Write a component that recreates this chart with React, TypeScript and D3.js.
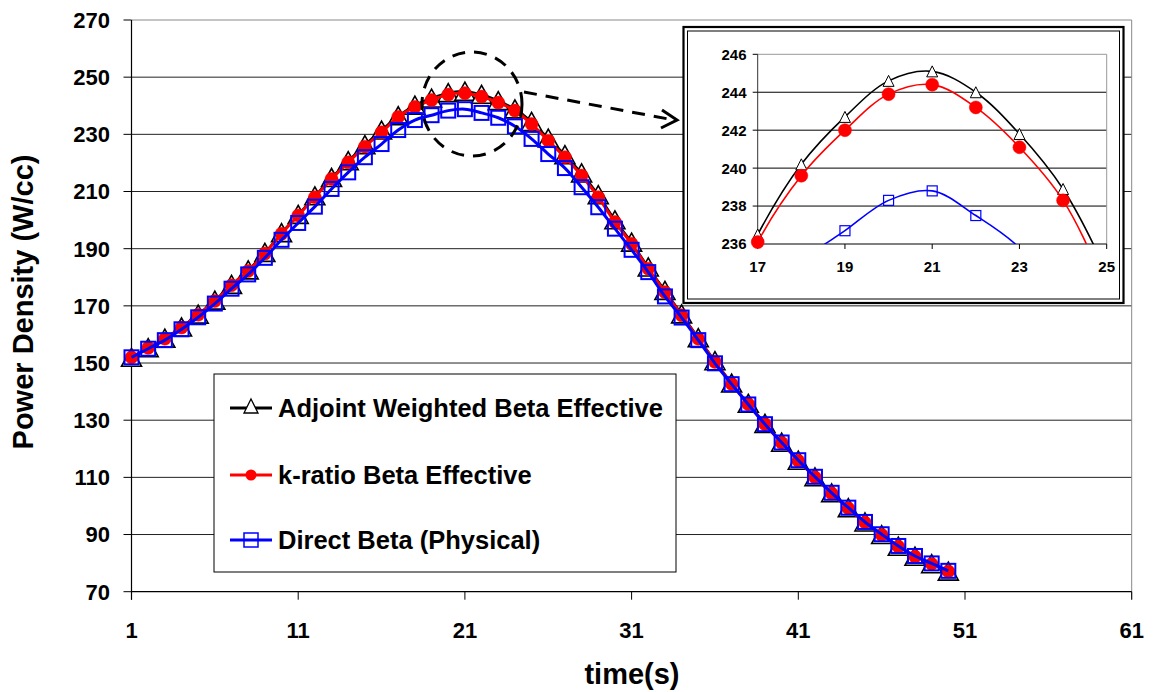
import React from "react";
import * as d3 from "d3";

const times = [1,2,3,4,5,6,7,8,9,10,11,12,13,14,15,16,17,18,19,20,21,22,23,24,25,26,27,28,29,30,31,32,33,34,35,36,37,38,39,40,41,42,43,44,45,46,47,48,49,50];
const adjoint = [152.0,155.4,158.7,162.6,167.1,172.0,177.5,182.6,188.7,195.6,202.0,208.5,214.9,220.8,226.4,231.5,236.5,240.2,242.7,244.6,245.1,244.0,241.8,238.9,234.5,228.7,222.9,216.5,208.9,200.1,192.3,183.6,175.4,167.2,158.9,150.8,143.0,135.9,128.9,122.3,116.0,110.2,104.6,99.4,94.4,90.0,85.9,82.4,79.8,77.2];
const kratio = [152.0,155.3,158.5,162.4,166.9,171.7,177.2,182.2,188.3,195.2,201.6,208.0,214.4,220.2,225.7,230.7,236.1,239.6,242.0,243.9,244.4,243.2,241.1,238.3,233.6,227.8,222.0,215.6,208.0,199.3,191.7,183.0,174.8,166.7,158.5,150.4,142.7,135.6,128.6,122.1,115.8,110.0,104.4,99.2,94.2,89.9,85.8,82.3,79.7,77.1];
const direct = [152.0,155.0,158.0,161.8,166.0,170.8,176.0,181.0,186.8,193.1,199.0,204.7,210.9,216.7,222.0,226.6,231.5,235.0,236.7,238.3,238.8,237.5,235.8,232.8,228.4,223.1,218.2,211.5,204.5,197.0,189.6,181.8,173.3,165.9,158.0,149.9,142.6,135.5,128.6,122.2,116.0,110.2,104.6,99.4,94.4,90.1,86.0,82.5,79.9,77.3];

const xTicks = [1,11,21,31,41,51,61];
const yTicks = [70,90,110,130,150,170,190,210,230,250,270];
const insetXTicks = [17,19,21,23,25];
const insetYTicks = [236,238,240,242,244,246];

const seriesNames = ["Adjoint Weighted Beta Effective","k-ratio Beta Effective","Direct Beta (Physical)"];

const FONT = "'Liberation Sans', Arial, Helvetica, sans-serif";

type Pt = { t: number; v: number };
const mk = (vals: number[]): Pt[] => times.map((t, i) => ({ t, v: vals[i] }));

function tri(cx: number, cy: number, w: number, h: number) {
  return `M${cx},${cy - h / 2}L${cx + w / 2},${cy + h / 2}L${cx - w / 2},${cy + h / 2}Z`;
}

export default function App() {
  const x = d3.scaleLinear().domain([1, 61]).range([131.5, 1131.7]);
  const y = d3.scaleLinear().domain([70, 270]).range([591.7, 20]);
  const ix = d3.scaleLinear().domain([17, 25]).range([757.7, 1106.7]);
  const iy = d3.scaleLinear().domain([236, 246]).range([244, 54.3]);

  const data = [
    { pts: mk(adjoint), color: "#000", lw: 2, kind: "tri" },
    { pts: mk(kratio), color: "#ff0000", lw: 3, kind: "circ" },
    { pts: mk(direct), color: "#0000ff", lw: 3, kind: "sq" },
  ];

  const mainLine = d3.line<Pt>().x(d => x(d.t)).y(d => y(d.v)).curve(d3.curveCatmullRom);
  const insetLine = d3.line<Pt>().x(d => ix(d.t)).y(d => iy(d.v)).curve(d3.curveCatmullRom);

  const marker = (kind: string, cx: number, cy: number, color: string, big: boolean, key: any) => {
    if (kind === "tri") {
      return big
        ? <path key={key} d={tri(cx, cy, 20, 18)} fill="#fff" stroke="#000" strokeWidth={1.6} />
        : <path key={key} d={tri(cx, cy, 11, 11)} fill="#fff" stroke="#000" strokeWidth={1} />;
    }
    if (kind === "circ") {
      return <circle key={key} cx={cx} cy={cy} r={6.5} fill="#ff0000" stroke="#ff0000" strokeWidth={0.5} />;
    }
    const s = big ? 14 : 10;
    return <rect key={key} x={cx - s / 2} y={cy - s / 2} width={s} height={s} fill="none" stroke="#0000ff" strokeWidth={big ? 2 : 1.2} />;
  };

  const insetFrame = { x: 683.5, y: 27, w: 440, h: 276 };

  return (
    <svg width={1155} height={692} style={{ position: "absolute", left: 0, top: 0, background: "#fff" }} fontFamily={FONT}>
      <rect x={0} y={0} width={1155} height={692} fill="#fff" />
      <defs>
        <clipPath id="insetClip">
          <rect x={ix(17)} y={iy(246)} width={ix(25) - ix(17)} height={iy(236) - iy(246)} />
        </clipPath>
      </defs>

      {yTicks.slice(1).map(t => (
        <line key={"g" + t} x1={x(1)} x2={x(61)} y1={y(t)} y2={y(t)} stroke={t === 270 ? "#888" : "#222"} strokeWidth={1} />
      ))}
      <line x1={x(61)} x2={x(61)} y1={y(270)} y2={y(70) + 8} stroke="#888" strokeWidth={1} />
      <line x1={x(1)} x2={x(1)} y1={y(270)} y2={y(70) + 8} stroke="#000" strokeWidth={1.2} />
      <line x1={x(1)} x2={x(61)} y1={y(70)} y2={y(70)} stroke="#000" strokeWidth={1.2} />
      {yTicks.map(t => (
        <g key={"yt" + t}>
          <line x1={x(1) - 8} x2={x(1)} y1={y(t)} y2={y(t)} stroke="#000" strokeWidth={1} />
          <text x={110} y={y(t)} dy="0.36em" textAnchor="end" fontSize={22} fontWeight="bold">{t}</text>
        </g>
      ))}
      {xTicks.map(t => (
        <g key={"xt" + t}>
          <line x1={x(t)} x2={x(t)} y1={y(70)} y2={y(70) + 8} stroke="#000" strokeWidth={1} />
          <text x={x(t)} y={638} textAnchor="middle" fontSize={22} fontWeight="bold">{t}</text>
        </g>
      ))}
      <text x={632} y={684} textAnchor="middle" fontSize={29} fontWeight="bold">time(s)</text>
      <text transform="translate(33,302) rotate(-90)" textAnchor="middle" fontSize={29} fontWeight="bold">Power Density (W/cc)</text>

      {data.map((s, i) => (
        <g key={"s" + i}>
          <path d={mainLine(s.pts) || ""} fill="none" stroke={s.color} strokeWidth={s.lw} />
          {s.pts.map((p, j) => marker(s.kind, x(p.t), y(p.v), s.color, true, j))}
        </g>
      ))}

      <ellipse cx={472} cy={104} rx={50} ry={52} fill="none" stroke="#000" strokeWidth={3} strokeDasharray="13 9" />
      <line x1={524} y1={92} x2={674} y2={120} stroke="#000" strokeWidth={3} strokeDasharray="13 9" />
      <path d="M662,110 L677,120 L661,128" fill="none" stroke="#000" strokeWidth={3} />

      <rect x={214} y={374} width={462} height={198} fill="#fff" stroke="#000" strokeWidth={1} />
      {data.map((s, i) => {
        const ly = [408, 475, 540][i];
        return (
          <g key={"lg" + i}>
            <line x1={230} x2={272} y1={ly} y2={ly} stroke={s.color} strokeWidth={2.8} />
            {s.kind === "tri" && <path d={tri(251, ly - 2, 14, 14)} fill="#fff" stroke="#000" strokeWidth={1.3} />}
            {s.kind === "circ" && <circle cx={251} cy={ly} r={5.5} fill="#ff0000" />}
            {s.kind === "sq" && <rect x={244} y={ly - 7} width={14} height={14} fill="none" stroke="#0000ff" strokeWidth={1.5} />}
            <text x={278} y={ly} dy="0.36em" fontSize={25.5} fontWeight="bold">{seriesNames[i]}</text>
          </g>
        );
      })}

      <rect x={insetFrame.x} y={insetFrame.y} width={insetFrame.w} height={insetFrame.h} fill="#fff" stroke="#000" strokeWidth={2.2} />
      <rect x={insetFrame.x + 4} y={insetFrame.y + 4} width={insetFrame.w - 8} height={insetFrame.h - 8} fill="none" stroke="#000" strokeWidth={1} />
      {insetYTicks.slice(1, -1).map(t => (
        <line key={"ig" + t} x1={ix(17)} x2={ix(25)} y1={iy(t)} y2={iy(t)} stroke="#000" strokeWidth={1} />
      ))}
      <line x1={ix(17)} x2={ix(25)} y1={iy(246)} y2={iy(246)} stroke="#999" strokeWidth={1} />
      <line x1={ix(25)} x2={ix(25)} y1={iy(246)} y2={iy(236)} stroke="#999" strokeWidth={1} />
      <line x1={ix(17)} x2={ix(17)} y1={iy(246)} y2={iy(236)} stroke="#333" strokeWidth={1} />
      <line x1={ix(17)} x2={ix(25)} y1={iy(236)} y2={iy(236)} stroke="#000" strokeWidth={1} />
      {insetYTicks.map(t => (
        <g key={"iyt" + t}>
          <line x1={ix(17) - 5} x2={ix(17)} y1={iy(t)} y2={iy(t)} stroke="#000" strokeWidth={1} />
          <text x={746.5} y={iy(t)} dy="0.36em" textAnchor="end" fontSize={15} fontWeight="bold">{t}</text>
        </g>
      ))}
      {insetXTicks.map(t => (
        <g key={"ixt" + t}>
          <line x1={ix(t)} x2={ix(t)} y1={iy(236)} y2={iy(236) + 5} stroke="#000" strokeWidth={1} />
          <text x={ix(t)} y={272} textAnchor="middle" fontSize={15} fontWeight="bold">{t}</text>
        </g>
      ))}
      {data.map((s, i) => {
        const sub = s.pts.filter(p => p.t >= 15 && p.t <= 27);
        return (
          <g key={"is" + i}>
            <path d={insetLine(sub) || ""} fill="none" stroke={s.color} strokeWidth={1.6} clipPath="url(#insetClip)" />
            {sub.filter(p => p.t >= 17 && p.t <= 25 && p.v >= 235.9 && p.v <= 246.2).map((p, j) =>
              marker(s.kind, ix(p.t), iy(p.v), s.color, false, j))}
          </g>
        );
      })}
    </svg>
  );
}
